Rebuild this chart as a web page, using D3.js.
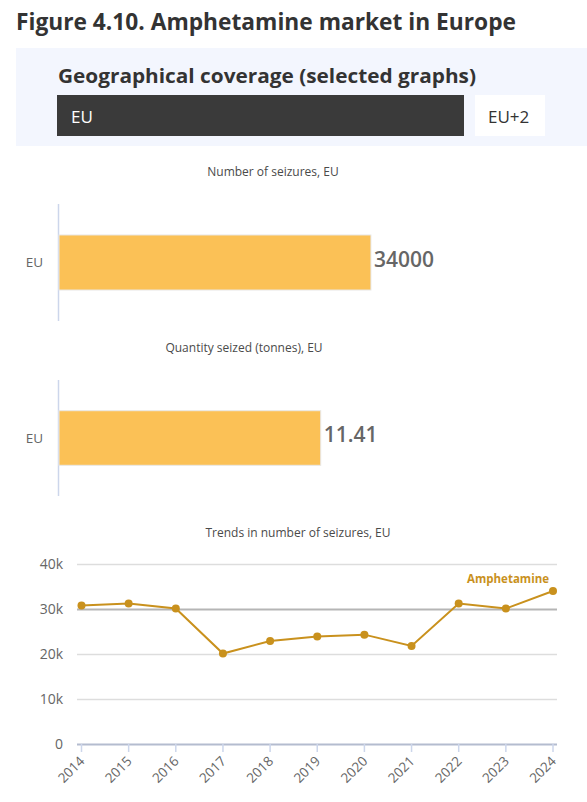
<!DOCTYPE html>
<html>
<head>
<meta charset="utf-8">
<script src="https://cdn.jsdelivr.net/npm/d3@7"></script>
<style>
  html, body { margin: 0; padding: 0; background: #fff; }
  svg { display: block; }
  text { font-family: "Open Sans", "Noto Sans", sans-serif; }
</style>
</head>
<body>
<svg id="chart" width="587" height="802"></svg>
<script>
// ---- Data ----
const figureTitle = "Figure 4.10. Amphetamine market in Europe";
const coverageTitle = "Geographical coverage (selected graphs)";
const coverageOptions = ["EU", "EU+2"];

const seizuresCategories = ["EU"];
const seizuresValues = [34000];

const quantityCategories = ["EU"];
const quantityValues = [11.41];

const trendYears = ["2014","2015","2016","2017","2018","2019","2020","2021","2022","2023","2024"];
const trendValues = [30800, 31200, 30100, 20100, 22900, 23900, 24300, 21800, 31200, 30100, 34000];
const trendSeriesName = "Amphetamine";
const trendTicks = [0, 10000, 20000, 30000, 40000];
const trendTickLabels = ["0", "10k", "20k", "30k", "40k"];

// ---- Drawing ----
const svg = d3.select("#chart");
const barColor = "#fbc156";
const lineColor = "#c9911d";
const axisColor = "#ccd6eb";

// Title
svg.append("text").attr("x", 16).attr("y", 30)
  .attr("font-size", 22.8).attr("font-weight", 700).attr("fill", "#333")
  .attr("textLength", 500).attr("lengthAdjust", "spacingAndGlyphs")
  .text(figureTitle);

// Coverage panel
svg.append("rect").attr("x", 16).attr("y", 48).attr("width", 571).attr("height", 98)
  .attr("fill", "#f3f6fe");
svg.append("text").attr("x", 58).attr("y", 83)
  .attr("font-size", 19.5).attr("font-weight", 700).attr("fill", "#333")
  .attr("textLength", 418).attr("lengthAdjust", "spacingAndGlyphs")
  .text(coverageTitle);
svg.append("rect").attr("x", 57).attr("y", 95).attr("width", 407).attr("height", 41)
  .attr("fill", "#3a3a3a");
svg.append("text").attr("x", 71).attr("y", 123)
  .attr("font-size", 17).attr("fill", "#fff").text(coverageOptions[0]);
svg.append("rect").attr("x", 475).attr("y", 95).attr("width", 70).attr("height", 41)
  .attr("fill", "#fff");
svg.append("text").attr("x", 488).attr("y", 123)
  .attr("font-size", 17).attr("fill", "#333").text(coverageOptions[1]);

// Horizontal bar charts
function barChart(opts) {
  const g = svg.append("g");
  g.append("text").attr("x", opts.titleX).attr("y", opts.titleY)
    .attr("text-anchor", "middle").attr("font-size", 12).attr("fill", "#4a4a4a")
    .text(opts.title);
  const x = d3.scaleLinear().domain([0, opts.max]).range([59, 426]);
  const y = d3.scaleBand().domain(opts.categories).range([opts.top, opts.bottom]).padding(0.36);
  // category axis line
  g.append("line").attr("x1", 58.5).attr("x2", 58.5).attr("y1", opts.top).attr("y2", opts.bottom)
    .attr("stroke", axisColor).attr("stroke-width", 1.5);
  // category labels
  g.selectAll(".cl").data(opts.categories).enter().append("text")
    .attr("x", 43).attr("y", d => y(d) + y.bandwidth() / 2)
    .attr("dy", "0.35em").attr("text-anchor", "end")
    .attr("font-size", 13.5).attr("fill", "#666").text(d => d);
  // bars
  g.selectAll(".bar").data(opts.values).enter().append("rect")
    .attr("x", x(0)).attr("y", (d, i) => y(opts.categories[i]))
    .attr("width", d => x(d) - x(0)).attr("height", y.bandwidth())
    .attr("fill", barColor).attr("stroke", "#e8e8e8").attr("stroke-width", 1);
  // value labels
  g.selectAll(".vl").data(opts.values).enter().append("text")
    .attr("x", d => x(d) + 3).attr("y", (d, i) => y(opts.categories[i]) + y.bandwidth() / 2 - 3)
    .attr("dy", "0.35em").attr("font-size", 21).attr("font-weight", 600)
    .attr("fill", "#666").attr("stroke", "#fff").attr("stroke-width", 2)
    .attr("paint-order", "stroke")
    .text(d => opts.format(d));
}

barChart({
  title: "Number of seizures, EU", titleX: 273, titleY: 176,
  categories: seizuresCategories, values: seizuresValues,
  max: 40000, top: 204, bottom: 321,
  format: d => String(d)
});
barChart({
  title: "Quantity seized (tonnes), EU", titleX: 244, titleY: 352,
  categories: quantityCategories, values: quantityValues,
  max: 16, top: 380, bottom: 496,
  format: d => d.toFixed(2)
});

// Line chart
const lg = svg.append("g");
lg.append("text").attr("x", 298).attr("y", 537)
  .attr("text-anchor", "middle").attr("font-size", 12).attr("fill", "#4a4a4a")
  .text("Trends in number of seizures, EU");

const xs = d3.scalePoint().domain(trendYears).range([81.5, 553]);
const ys = d3.scaleLinear().domain([0, 40000]).range([744, 564]);
const gridLeft = 77, gridRight = 557;

// gridlines
lg.selectAll(".grid").data(trendTicks.filter(t => t > 0)).enter().append("line")
  .attr("x1", gridLeft).attr("x2", gridRight)
  .attr("y1", d => Math.round(ys(d)) + 0.5).attr("y2", d => Math.round(ys(d)) + 0.5)
  .attr("stroke", d => d === 30000 ? "#b5b5b5" : "#dddddd")
  .attr("stroke-width", d => d === 30000 ? 2 : 1.5);

// y labels
lg.selectAll(".yl").data(trendTicks).enter().append("text")
  .attr("x", 63).attr("y", d => ys(d)).attr("dy", "0.35em")
  .attr("text-anchor", "end").attr("font-size", 14).attr("fill", "#666")
  .text((d, i) => trendTickLabels[i]);

// x axis
lg.append("line").attr("x1", gridLeft).attr("x2", gridRight).attr("y1", 744.5).attr("y2", 744.5)
  .attr("stroke", "#b4bccf").attr("stroke-width", 2);
lg.selectAll(".tick").data(trendYears).enter().append("line")
  .attr("x1", d => xs(d)).attr("x2", d => xs(d)).attr("y1", 744).attr("y2", 752)
  .attr("stroke", axisColor).attr("stroke-width", 1.5);
lg.selectAll(".xl").data(trendYears).enter().append("text")
  .attr("transform", d => `translate(${xs(d) + 4},${762}) rotate(-45)`)
  .attr("text-anchor", "end").attr("font-size", 13.5).attr("fill", "#666")
  .text(d => d);

// line
const line = d3.line().x((d, i) => xs(trendYears[i])).y(d => ys(d));
lg.append("path").datum(trendValues).attr("d", line)
  .attr("fill", "none").attr("stroke", lineColor).attr("stroke-width", 2);
lg.selectAll(".pt").data(trendValues).enter().append("circle")
  .attr("cx", (d, i) => xs(trendYears[i])).attr("cy", d => ys(d)).attr("r", 4)
  .attr("fill", lineColor);

// series label
lg.append("text").attr("x", 549).attr("y", 583)
  .attr("text-anchor", "end").attr("font-size", 11.5).attr("font-weight", 700)
  .attr("fill", lineColor).text(trendSeriesName);
</script>
</body>
</html>
